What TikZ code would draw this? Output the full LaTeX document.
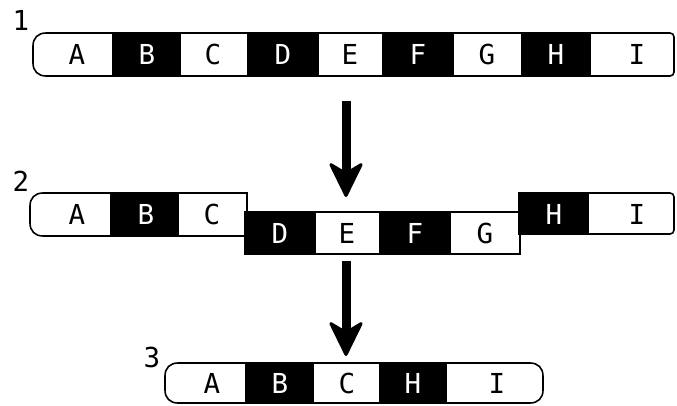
\documentclass[tikz,border=0pt]{standalone}
\usepackage{fontspec}
\setmainfont{DejaVu Sans Mono}
\usetikzlibrary{arrows.meta}
\begin{document}
\begin{tikzpicture}[x=1pt,y=-1pt,
  outline/.style={draw=black,line width=1.6pt,fill=white},
  darkcell/.style={fill=black},
  lbl/.style={font=\fontsize{27.5}{27.5}\selectfont,inner sep=0pt,anchor=center},
  onwhite/.style={lbl,text=black},
  onblack/.style={lbl,text=white},
  stagenum/.style={font=\fontsize{27.5}{27.5}\selectfont,inner sep=0pt},
  flow/.style={line width=9pt,
    -{Stealth[length=38pt,width=37pt,inset=11pt,round,line width=3pt]}}
]
\useasboundingbox (0,0) rectangle (677,405);

% ---------- stage 1: the full strip ----------
\node[stagenum] (n1) at (21,20) {1};
\draw[outline] (46,33) .. controls (38,33) and (33,38) .. (33,46) -- (33,63)
  .. controls (33,71) and (38,76) .. (46,76) -- (670,76)
  .. controls (672.2,76) and (674,74.2) .. (674,72) -- (674,37)
  .. controls (674,34.8) and (672.2,33) .. (670,33) -- cycle;
\fill[darkcell] (112,32.2) rectangle (181,76.8);
\fill[darkcell] (247,32.2) rectangle (319,76.8);
\fill[darkcell] (382,32.2) rectangle (454,76.8);
\fill[darkcell] (521,32.2) rectangle (591,76.8);
\node[onwhite] (r1a) at (77,54) {A};
\node[onblack] (r1b) at (147,54) {B};
\node[onwhite] (r1c) at (213,54) {C};
\node[onblack] (r1d) at (283,54) {D};
\node[onwhite] (r1e) at (350,54) {E};
\node[onblack] (r1f) at (418,54) {F};
\node[onwhite] (r1g) at (487,54) {G};
\node[onblack] (r1h) at (556,54) {H};
\node[onwhite] (r1i) at (637,54) {I};

% ---------- stage 2: the middle part drops out ----------
\node[stagenum] (n2) at (21,181) {2};
% left piece
\draw[outline] (43,193) .. controls (35,193) and (30,198) .. (30,206) -- (30,223)
  .. controls (30,231) and (35,236) .. (43,236) -- (247,236) -- (247,193) -- cycle;
\fill[darkcell] (110,192.2) rectangle (179,236.8);
% middle piece
\draw[outline] (245,212) rectangle (520,254);
\fill[darkcell] (245,211.2) rectangle (316,254.8);
\fill[darkcell] (379,211.2) rectangle (451,254.8);
% right piece
\draw[outline] (519,193) -- (519,234) -- (670,234)
  .. controls (672.2,234) and (674,232.2) .. (674,230) -- (674,197)
  .. controls (674,194.8) and (672.2,193) .. (670,193) -- cycle;
\fill[darkcell] (518.2,192.2) rectangle (589,234.8);
\node[onwhite] (r2a) at (77,214) {A};
\node[onblack] (r2b) at (146,214) {B};
\node[onwhite] (r2c) at (212,214) {C};
\node[onblack] (r2d) at (280,233) {D};
\node[onwhite] (r2e) at (347,233) {E};
\node[onblack] (r2f) at (415,233) {F};
\node[onwhite] (r2g) at (485,233) {G};
\node[onblack] (r2h) at (554,214) {H};
\node[onwhite] (r2i) at (637,214) {I};

% ---------- stage 3: the ends joined ----------
\node[stagenum] (n3) at (152,357) {3};
\draw[outline] (178,363) .. controls (170,363) and (165,368) .. (165,376) -- (165,390)
  .. controls (165,398) and (170,403) .. (178,403) -- (530,403)
  .. controls (538,403) and (543,398) .. (543,390) -- (543,376)
  .. controls (543,368) and (538,363) .. (530,363) -- cycle;
\fill[darkcell] (245,362.2) rectangle (314,403.8);
\fill[darkcell] (379,362.2) rectangle (447,403.8);
\node[onwhite] (r3a) at (212,383) {A};
\node[onblack] (r3b) at (280,383) {B};
\node[onwhite] (r3c) at (347,383) {C};
\node[onblack] (r3h) at (413,383) {H};
\node[onwhite] (r3i) at (497,383) {I};

% ---------- arrows between the stages ----------
\coordinate (s1) at (346,101);
\coordinate (e1) at (346,197);
\coordinate (s2) at (346,261);
\coordinate (e2) at (346,356);
\draw[flow] (s1) -- (e1);
\draw[flow] (s2) -- (e2);
\end{tikzpicture}
\end{document}
